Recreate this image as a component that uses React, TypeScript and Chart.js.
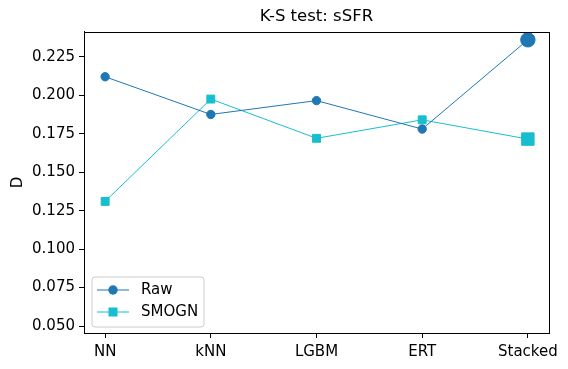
import React, { useEffect, useRef } from "react";
import { Chart, registerables } from "chart.js";

Chart.register(...registerables);

const categories = ["NN", "kNN", "LGBM", "ERT", "Stacked"];
const rawValues = [0.212, 0.1875, 0.1965, 0.178, 0.236];
const smognValues = [0.131, 0.1975, 0.172, 0.184, 0.1715];
const yTicks = [0.05, 0.075, 0.1, 0.125, 0.15, 0.175, 0.2, 0.225];
const seriesNames = ["Raw", "SMOGN"];
const seriesColors = ["#1f77b4", "#17becf"];

const FONT = "'DejaVu Sans', sans-serif";

const frameAndLegend = {
  id: "frameAndLegend",
  afterDraw(chart: any) {
    const ctx = chart.ctx;
    const a = chart.chartArea;
    ctx.save();
    ctx.strokeStyle = "#000";
    ctx.lineWidth = 1;
    ctx.strokeRect(Math.round(a.left) + 0.5, Math.round(a.top) + 0.5, Math.round(a.right - a.left), Math.round(a.bottom - a.top));

    // legend
    const bx = a.left + 8, by = a.bottom - 56, bw = 112, bh = 50;
    const r = 3;
    ctx.beginPath();
    ctx.moveTo(bx + r, by);
    ctx.arcTo(bx + bw, by, bx + bw, by + bh, r);
    ctx.arcTo(bx + bw, by + bh, bx, by + bh, r);
    ctx.arcTo(bx, by + bh, bx, by, r);
    ctx.arcTo(bx, by, bx + bw, by, r);
    ctx.closePath();
    ctx.fillStyle = "rgba(255,255,255,0.8)";
    ctx.fill();
    ctx.strokeStyle = "#cccccc";
    ctx.stroke();
    chart.data.datasets.forEach((ds: any, i: number) => {
      const cy = by + 13 + i * 22;
      ctx.strokeStyle = ds.borderColor;
      ctx.lineWidth = 1;
      ctx.beginPath();
      ctx.moveTo(bx + 5, cy);
      ctx.lineTo(bx + 37, cy);
      ctx.stroke();
      ctx.fillStyle = ds.borderColor;
      if (ds.pointStyle === "rect") {
        ctx.fillRect(bx + 21 - 4.5, cy - 4.5, 9, 9);
      } else {
        ctx.beginPath();
        ctx.arc(bx + 21, cy, 4.7, 0, Math.PI * 2);
        ctx.fill();
      }
      ctx.fillStyle = "#000";
      ctx.font = "15px " + FONT;
      ctx.textBaseline = "middle";
      ctx.textAlign = "left";
      ctx.fillText(ds.label, bx + 49, cy);
    });
    ctx.restore();
  },
};

export default function App() {
  const ref = useRef<HTMLCanvasElement>(null);
  useEffect(() => {
    if (!ref.current) return;
    const chart = new Chart(ref.current, {
      type: "line",
      data: {
        datasets: [
          {
            label: seriesNames[0],
            data: rawValues.map((v, i) => ({ x: i, y: v })),
            borderColor: seriesColors[0],
            backgroundColor: seriesColors[0],
            borderWidth: 1,
            pointStyle: "circle",
            pointRadius: rawValues.map((_, i) => (i === rawValues.length - 1 ? 7.2 : 4.2)),
            pointBorderWidth: 1,
            pointHoverRadius: 0,
            clip: false,
          } as any,
          {
            label: seriesNames[1],
            data: smognValues.map((v, i) => ({ x: i, y: v })),
            borderColor: seriesColors[1],
            backgroundColor: seriesColors[1],
            borderWidth: 1,
            pointStyle: "rect",
            pointRadius: smognValues.map((_, i) => (i === smognValues.length - 1 ? 8.8 : 5.6)),
            pointBorderWidth: 1,
            pointHoverRadius: 0,
            clip: false,
          } as any,
        ],
      },
      options: {
        animation: false,
        responsive: false,
        devicePixelRatio: 1,
        layout: { padding: { left: 0, right: 19, top: 0, bottom: 0 } },
        plugins: {
          legend: { display: false },
          tooltip: { enabled: false },
          title: {
            display: true,
            fullSize: false,
            text: "K-S test: sSFR",
            color: "#000",
            font: { family: FONT, size: 16.5, weight: "normal" },
            padding: { top: 7, bottom: 5 },
          },
        },
        scales: {
          x: {
            type: "linear",
            min: -0.2,
            max: 4.2,
            afterBuildTicks: (s: any) => {
              s.ticks = categories.map((_, i) => ({ value: i }));
            },
            afterFit: (s: any) => {
              s.height = 36;
            },
            ticks: {
              color: "#000",
              font: { family: FONT, size: 15 },
              padding: 5,
              maxRotation: 0,
              callback: (v: any) => categories[v] ?? "",
            },
            grid: { drawOnChartArea: false, drawTicks: true, tickLength: 5, color: "#000" },
            border: { display: true, color: "#000" },
          },
          y: {
            type: "linear",
            min: 0.0455,
            max: 0.2412,
            afterBuildTicks: (s: any) => {
              s.ticks = yTicks.map((v) => ({ value: v }));
            },
            afterFit: (s: any) => {
              s.width = 84;
            },
            title: {
              display: true,
              text: "D",
              color: "#000",
              font: { family: FONT, size: 15 },
              padding: { top: 9, bottom: 0 },
            },
            ticks: {
              color: "#000",
              font: { family: FONT, size: 15 },
              padding: 4,
              callback: (v: any) => Number(v).toFixed(3),
            },
            grid: { drawOnChartArea: false, drawTicks: true, tickLength: 5, color: "#000" },
            border: { display: true, color: "#000" },
          },
        },
      },
      plugins: [frameAndLegend],
    } as any);
    return () => chart.destroy();
  }, []);
  return (
    <div style={{ position: "absolute", left: 0, top: 0, width: 568, height: 369, background: "#fff" }}>
      <canvas ref={ref} width={568} height={369} style={{ width: 568, height: 369 }} />
    </div>
  );
}
